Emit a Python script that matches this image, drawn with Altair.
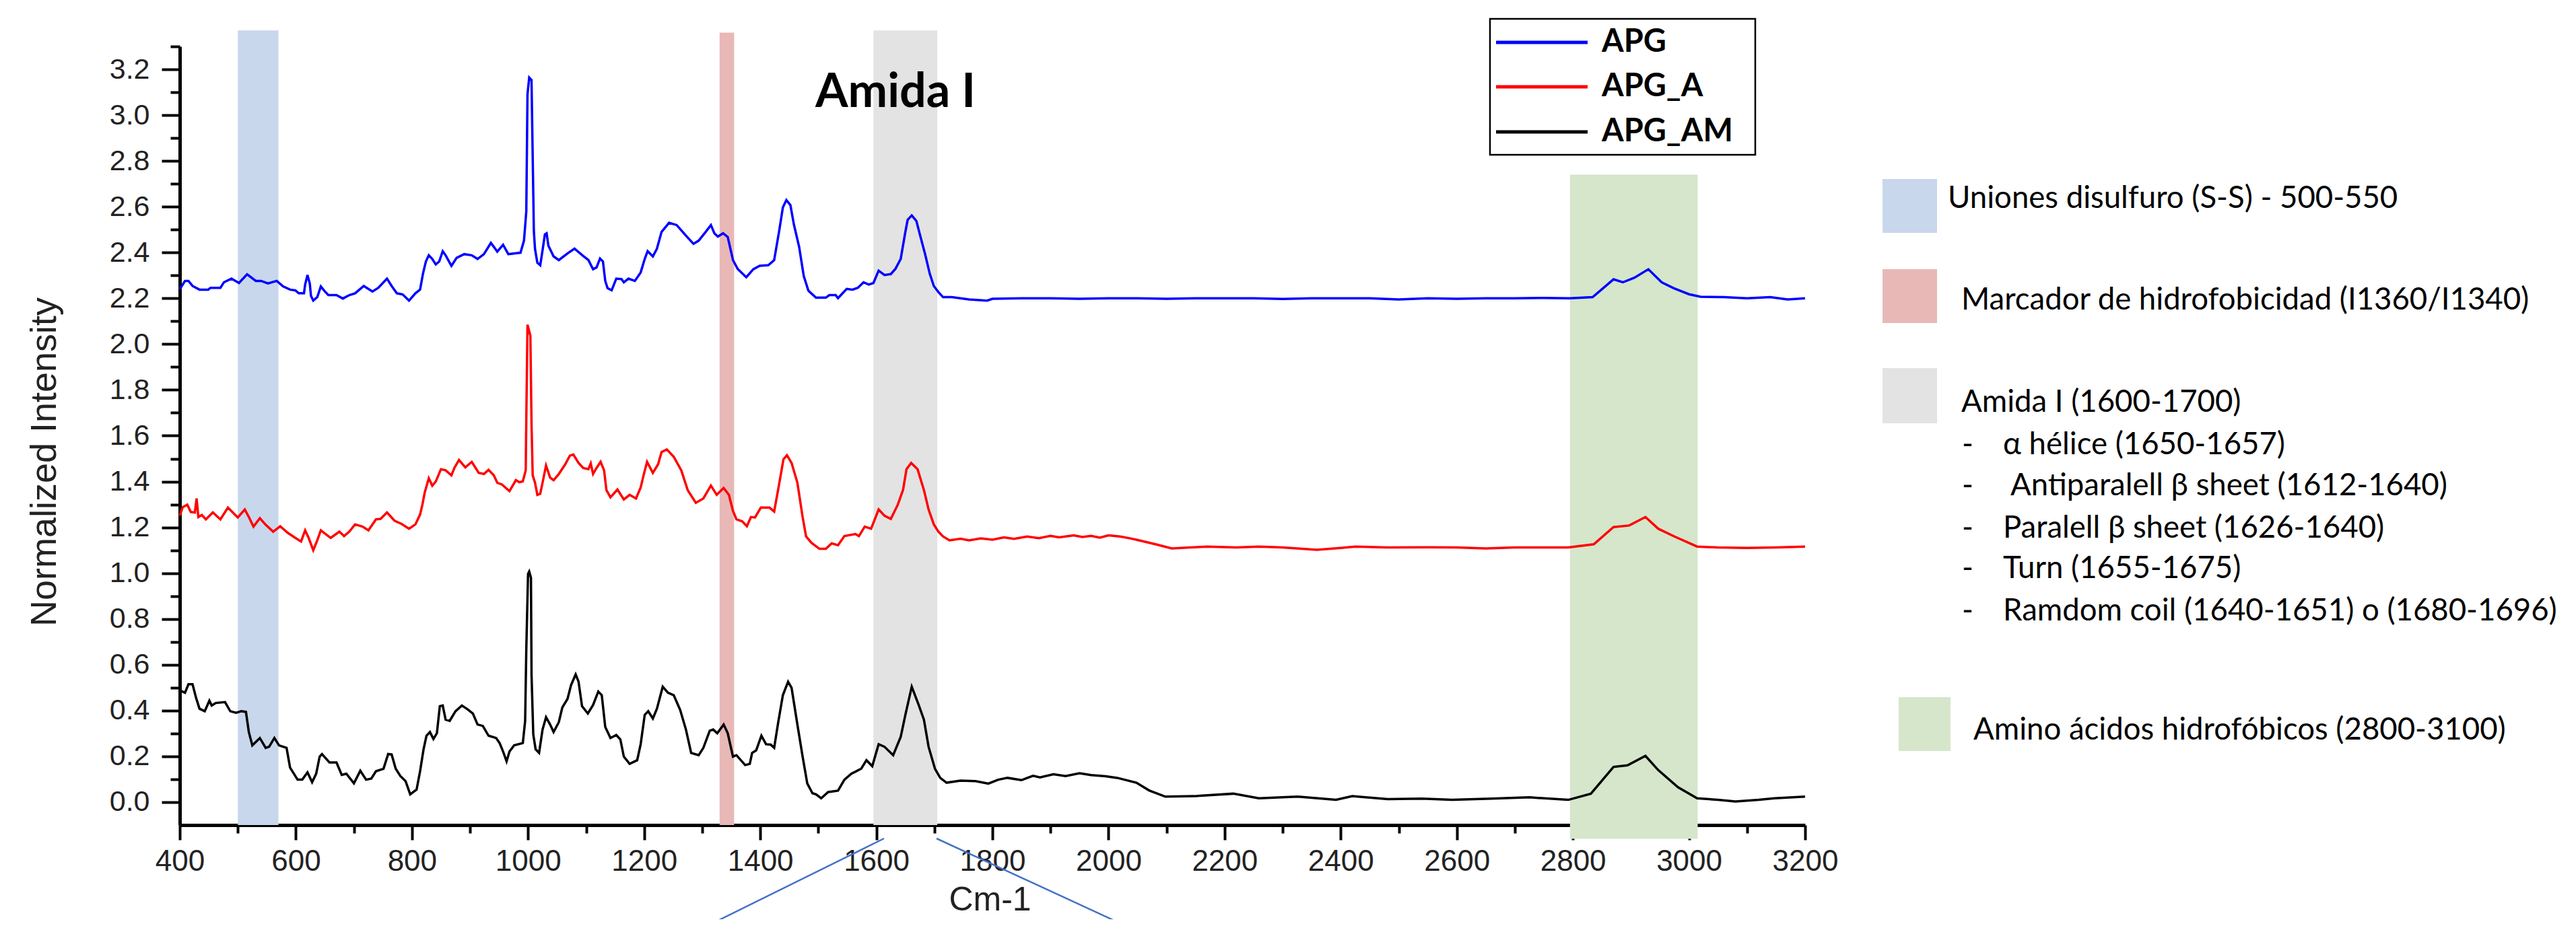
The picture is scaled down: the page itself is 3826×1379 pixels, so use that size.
import altair as alt
import pandas as pd

# ---------------- spectra ----------------
apg_x = [400, 409, 415, 422, 434, 449, 453, 470, 476, 489, 502, 516, 531, 540, 552, 561, 567, 578, 590, 599,
         605, 614, 616, 620, 624, 626, 630, 637, 643, 649, 656, 670, 681, 692, 702, 717, 732, 742, 757, 765,
         774, 784, 795, 806, 814, 819, 824, 829, 835, 841, 847, 853, 858, 868, 877, 890, 903, 913, 924, 936,
         947, 957, 966, 987, 993, 997, 999, 1002, 1006, 1008, 1010, 1012, 1016, 1021, 1025, 1029, 1032, 1035,
         1044, 1053, 1068, 1080, 1095, 1104, 1112, 1118, 1124, 1129, 1133, 1137, 1144, 1152, 1161, 1165, 1173,
         1184, 1194, 1201, 1206, 1215, 1222, 1230, 1243, 1256, 1272, 1285, 1294, 1306, 1315, 1321, 1327, 1336,
         1344, 1353, 1361, 1376, 1388, 1399, 1414, 1424, 1433, 1439, 1445, 1452, 1458, 1467, 1475, 1483, 1496,
         1513, 1519, 1530, 1534, 1549, 1559, 1568, 1578, 1587, 1595, 1604, 1614, 1625, 1633, 1642, 1650, 1654,
         1661, 1669, 1675, 1684, 1692, 1699, 1707, 1715, 1730, 1760, 1791, 1800, 1850, 1900, 1950, 2000, 2050,
         2100, 2150, 2200, 2250, 2300, 2350, 2400, 2450, 2500, 2550, 2600, 2650, 2700, 2750, 2795, 2834, 2870,
         2886, 2906, 2930, 2953, 2974, 3000, 3020, 3060, 3100, 3140, 3170, 3200]
apg_y = [2.240, 2.276, 2.276, 2.254, 2.238, 2.238, 2.246, 2.246, 2.270, 2.286, 2.267, 2.305, 2.276, 2.276,
         2.265, 2.272, 2.276, 2.252, 2.238, 2.235, 2.222, 2.222, 2.260, 2.302, 2.265, 2.211, 2.190, 2.206,
         2.252, 2.233, 2.214, 2.214, 2.199, 2.214, 2.222, 2.254, 2.230, 2.246, 2.286, 2.254, 2.222, 2.217,
         2.190, 2.222, 2.238, 2.308, 2.361, 2.388, 2.372, 2.348, 2.361, 2.406, 2.388, 2.342, 2.377, 2.393,
         2.388, 2.372, 2.393, 2.442, 2.404, 2.434, 2.393, 2.399, 2.452, 2.580, 3.090, 3.164, 3.153, 2.820,
         2.495, 2.415, 2.356, 2.345, 2.410, 2.479, 2.484, 2.430, 2.383, 2.367, 2.396, 2.417, 2.385, 2.367,
         2.327, 2.335, 2.374, 2.361, 2.276, 2.244, 2.235, 2.286, 2.284, 2.270, 2.286, 2.276, 2.313, 2.372,
         2.406, 2.383, 2.417, 2.490, 2.530, 2.520, 2.474, 2.438, 2.452, 2.490, 2.520, 2.484, 2.470, 2.484,
         2.468, 2.367, 2.329, 2.292, 2.327, 2.342, 2.345, 2.367, 2.500, 2.597, 2.629, 2.607, 2.522, 2.425,
         2.297, 2.233, 2.203, 2.203, 2.214, 2.214, 2.201, 2.241, 2.238, 2.246, 2.270, 2.260, 2.267, 2.321,
         2.302, 2.306, 2.329, 2.372, 2.490, 2.543, 2.562, 2.538, 2.479, 2.393, 2.308, 2.254, 2.227, 2.205,
         2.205, 2.195, 2.190, 2.198, 2.200, 2.200, 2.198, 2.200, 2.200, 2.198, 2.200, 2.200, 2.200, 2.197,
         2.200, 2.200, 2.200, 2.195, 2.200, 2.198, 2.200, 2.200, 2.202, 2.200, 2.205, 2.283, 2.270, 2.290,
         2.327, 2.270, 2.244, 2.218, 2.207, 2.205, 2.200, 2.205, 2.195, 2.200]

apg_a_x = [400, 405, 413, 419, 426, 429, 432, 438, 445, 457, 470, 483, 500, 512, 519, 527, 538, 548, 561, 573,
           586, 599, 609, 616, 622, 630, 637, 643, 660, 675, 683, 692, 702, 715, 725, 738, 746, 757, 770, 782,
           795, 806, 814, 818, 822, 829, 835, 841, 850, 858, 868, 873, 881, 892, 903, 915, 924, 932, 941, 947,
           955, 968, 979, 985, 991, 996, 997, 999, 1004, 1006, 1008, 1012, 1016, 1021, 1025, 1031, 1038, 1044,
           1053, 1064, 1072, 1078, 1087, 1095, 1104, 1108, 1112, 1118, 1125, 1131, 1135, 1142, 1154, 1165, 1175,
           1186, 1194, 1199, 1205, 1215, 1224, 1230, 1239, 1251, 1264, 1275, 1289, 1302, 1315, 1325, 1337, 1346,
           1353, 1359, 1369, 1377, 1384, 1391, 1401, 1416, 1424, 1433, 1440, 1446, 1454, 1464, 1473, 1479, 1488,
           1502, 1513, 1523, 1534, 1545, 1564, 1570, 1580, 1591, 1604, 1614, 1625, 1637, 1646, 1652, 1660, 1671,
           1682, 1690, 1699, 1707, 1715,
           1726, 1745, 1760, 1780, 1800, 1820, 1837, 1860, 1880, 1900, 1915, 1940, 1955, 1970, 1985, 2000, 2020,
           2035, 2048, 2081,
           2109, 2140, 2170, 2220, 2259, 2300, 2359, 2400, 2425, 2480, 2550, 2600, 2650, 2700, 2750, 2792, 2836,
           2870, 2897, 2925, 2947, 2975, 3014, 3050, 3100, 3150, 3200]
apg_a_y = [1.251, 1.288, 1.299, 1.267, 1.265, 1.326, 1.245, 1.254, 1.235, 1.265, 1.235, 1.286, 1.243, 1.278,
           1.245, 1.203, 1.240, 1.211, 1.181, 1.205, 1.176, 1.154, 1.138, 1.187, 1.154, 1.100, 1.144, 1.187,
           1.154, 1.181, 1.162, 1.181, 1.213, 1.203, 1.187, 1.235, 1.237, 1.265, 1.229, 1.215, 1.194, 1.213,
           1.256, 1.299, 1.352, 1.414, 1.382, 1.400, 1.454, 1.449, 1.427, 1.459, 1.494, 1.462, 1.486, 1.438,
           1.433, 1.451, 1.427, 1.395, 1.387, 1.358, 1.406, 1.397, 1.401, 1.449, 1.673, 2.085, 2.037, 1.652,
           1.427, 1.395, 1.342, 1.347, 1.395, 1.470, 1.417, 1.406, 1.433, 1.475, 1.513, 1.518, 1.481, 1.459,
           1.454, 1.479, 1.433, 1.459, 1.486, 1.449, 1.363, 1.331, 1.365, 1.322, 1.342, 1.326, 1.374, 1.427,
           1.486, 1.438, 1.475, 1.529, 1.540, 1.508, 1.449, 1.363, 1.307, 1.326, 1.382, 1.342, 1.372, 1.342,
           1.272, 1.235, 1.226, 1.205, 1.245, 1.243, 1.286, 1.286, 1.269, 1.395, 1.497, 1.515, 1.481, 1.395,
           1.245, 1.160, 1.133, 1.106, 1.106, 1.130, 1.122, 1.162, 1.171, 1.162, 1.203, 1.194, 1.278, 1.251,
           1.237, 1.299, 1.363, 1.454, 1.481, 1.454, 1.363, 1.278, 1.213, 1.181, 1.160,
           1.143, 1.150, 1.143, 1.152, 1.146, 1.156, 1.150, 1.160, 1.153, 1.163, 1.156, 1.165, 1.158, 1.163,
           1.155, 1.165, 1.160, 1.153, 1.146, 1.126,
           1.108, 1.112, 1.116, 1.112, 1.116, 1.112, 1.102, 1.110, 1.116, 1.112, 1.113, 1.112, 1.108, 1.112,
           1.112, 1.112, 1.126, 1.201, 1.208, 1.245, 1.194, 1.160, 1.116, 1.112, 1.110, 1.112, 1.116]

apg_am_x = [400, 409, 415, 422, 428, 434, 443, 451, 455, 462, 478, 487, 497, 506, 514, 519, 525, 538, 548, 554,
            563, 571, 584, 590, 603, 611, 620, 628, 635, 641, 645, 658, 670, 679, 687, 700, 711, 721, 730, 738,
            751, 759, 765, 772, 780, 789, 797, 808, 814, 820, 825, 831, 837, 843, 848, 853, 858, 865, 875, 886,
            896, 905, 913, 922, 932, 945, 951, 957, 963, 968, 976, 991, 995, 997, 1000, 1002, 1005, 1006, 1009,
            1013, 1019, 1025, 1031, 1038, 1044, 1053, 1059, 1068, 1074, 1082, 1087, 1093, 1103, 1112, 1121, 1127,
            1133, 1142, 1152, 1159, 1165, 1175, 1188, 1194, 1201, 1207, 1215, 1222, 1232, 1241, 1251, 1262, 1272,
            1281, 1294, 1302, 1313, 1319, 1326, 1337, 1344, 1353, 1359, 1374, 1382, 1386, 1393, 1402, 1410, 1418,
            1424, 1431, 1439, 1448, 1454, 1464, 1473, 1481, 1490, 1496, 1505, 1517, 1534, 1545, 1557, 1574, 1583,
            1593, 1604, 1614, 1629, 1642, 1650, 1661, 1673, 1682, 1690, 1701, 1710, 1721,
            1745, 1771, 1793, 1810, 1826, 1850, 1870, 1882, 1905, 1926, 1950, 1970, 1995, 2015, 2048, 2070, 2098,
            2148, 2215, 2259, 2326,
            2392, 2420, 2481, 2540, 2592, 2660, 2725,
            2792, 2831, 2870, 2894, 2925, 2947, 2981, 3014, 3050, 3080, 3120, 3147, 3200]
apg_am_y = [0.488, 0.478, 0.515, 0.515, 0.456, 0.408, 0.397, 0.443, 0.422, 0.433, 0.437, 0.397, 0.390, 0.397,
            0.394, 0.306, 0.248, 0.280, 0.237, 0.242, 0.280, 0.248, 0.237, 0.151, 0.098, 0.098, 0.130, 0.087,
            0.124, 0.199, 0.210, 0.173, 0.173, 0.119, 0.124, 0.082, 0.137, 0.098, 0.103, 0.135, 0.146, 0.210,
            0.208, 0.146, 0.114, 0.092, 0.034, 0.055, 0.135, 0.231, 0.290, 0.306, 0.276, 0.301, 0.419, 0.422,
            0.360, 0.355, 0.397, 0.422, 0.405, 0.387, 0.339, 0.333, 0.290, 0.280, 0.258, 0.221, 0.178, 0.221,
            0.248, 0.258, 0.355, 0.670, 0.997, 1.007, 0.980, 0.558, 0.296, 0.231, 0.215, 0.317, 0.371, 0.339,
            0.306, 0.349, 0.413, 0.451, 0.510, 0.558, 0.526, 0.419, 0.387, 0.424, 0.483, 0.467, 0.328, 0.280,
            0.293, 0.274, 0.199, 0.167, 0.183, 0.253, 0.381, 0.397, 0.365, 0.408, 0.504, 0.478, 0.467, 0.403,
            0.317, 0.215, 0.205, 0.237, 0.312, 0.317, 0.301, 0.339, 0.301, 0.199, 0.205, 0.162, 0.167, 0.215,
            0.226, 0.290, 0.253, 0.251, 0.237, 0.349, 0.467, 0.526, 0.499, 0.339, 0.199, 0.082, 0.039, 0.034,
            0.017, 0.044, 0.050, 0.098, 0.124, 0.146, 0.183, 0.157, 0.253, 0.242, 0.205, 0.285, 0.381, 0.504,
            0.424, 0.360, 0.242, 0.146, 0.106, 0.085,
            0.094, 0.092, 0.081, 0.098, 0.106, 0.096, 0.115, 0.108, 0.122, 0.114, 0.126, 0.118, 0.113, 0.106,
            0.085, 0.051, 0.024, 0.026, 0.037, 0.017, 0.024,
            0.010, 0.026, 0.013, 0.015, 0.010, 0.015, 0.021,
            0.010, 0.037, 0.154, 0.161, 0.202, 0.140, 0.065, 0.017, 0.010, 0.003, 0.010, 0.017, 0.024]

series_names = ["APG", "APG_A", "APG_AM"]
series_colors = ["#0000FF", "#FF0000", "#000000"]

# ---------------- shaded wavenumber bands ----------------
band_start = [500, 1330, 1595, 2795]
band_end = [570, 1355, 1705, 3015]
band_top = [3.37, 3.36, 3.37, 2.74]
band_bottom = [-0.1, -0.1, -0.1, -0.16]
band_colors = ["#C8D7EC", "#E8B8B7", "#E3E3E3", "#D5E6CB"]

# ---------------- tick values ----------------
x_ticks = list(range(400, 3201, 100))
y_ticks = [round(i * 0.1, 1) for i in range(0, 34)]

# ---------------- texts ----------------
amide_title = "Amida I"
x_title = "Cm-1"
y_title = "Normalized Intensity"
note_labels = ["Uniones disulfuro (S-S)  -  500-550",
               "Marcador de hidrofobicidad (I1360/I1340)",
               "Amida I (1600-1700)",
               "-", "α hélice (1650-1657)",
               "-", "Antiparalell β sheet (1612-1640)",
               "-", "Paralell β sheet (1626-1640)",
               "-", "Turn (1655-1675)",
               "-", "Ramdom coil (1640-1651) o (1680-1696)",
               "Amino ácidos hidrofóbicos (2800-3100)"]

# ---------------- layout (pixels, relative to plot origin) ----------------
W, H = 2414, 1157
note_px = [2626, 2646, 2646, 2647, 2708, 2647, 2719, 2647, 2708, 2647, 2708, 2647, 2708, 2664]
note_py = [226, 377, 529, 592, 592, 653, 653, 716, 716, 776, 776, 839, 839, 1016]
swatch_x0 = [2529, 2529, 2529, 2553]
swatch_x1 = [2610, 2610, 2610, 2630]
swatch_y0 = [197, 331, 478, 967]
swatch_y1 = [277, 411, 560, 1047]
legend_row_y = [-6, 60, 127]

# ---------------- tables ----------------
frames = []
for name, xs, ys in [("APG", apg_x, apg_y), ("APG_A", apg_a_x, apg_a_y), ("APG_AM", apg_am_x, apg_am_y)]:
    n = min(len(xs), len(ys))
    frames.append(pd.DataFrame({"wn": xs[:n], "intensity": ys[:n], "series": name}))
spectra = pd.concat(frames, ignore_index=True)

band_df = pd.DataFrame({"start": band_start, "end": band_end, "top": band_top,
                        "bottom": band_bottom, "color": band_colors})
notes_df = pd.DataFrame({"label": note_labels, "px": note_px, "py": note_py})
swatch_df = pd.DataFrame({"x0": swatch_x0, "x1": swatch_x1, "y0": swatch_y0, "y1": swatch_y1,
                          "color": band_colors})
legend_df = pd.DataFrame({"series": series_names, "ly": legend_row_y})

xscale = alt.Scale(domain=[400, 3200], nice=False, zero=False)
yscale = alt.Scale(domain=[-0.1, 3.3], nice=False, zero=False)
color_scale = alt.Scale(domain=series_names, range=series_colors)

x_axis = alt.Axis(
    values=x_ticks, format="d",
    labelExpr="datum.value % 200 === 0 ? datum.label : ''",
    tickSize={"condition": {"test": "datum.value % 200 === 0", "value": 22}, "value": 12},
    tickWidth=4, tickColor="black", domainWidth=5, domainColor="black",
    labelFont="Liberation Sans", labelFontSize=44, labelColor="#222222", labelPadding=10,
    labelFlush=False, labelOverlap=False, labelBound=False, grid=False,
    title=x_title, titleFont="Liberation Sans", titleFontSize=50, titleFontWeight="normal",
    titleColor="#222222", titleX=1203, titleY=86, titleBaseline="top", titleAlign="center",
)
y_axis = alt.Axis(
    values=y_ticks,
    labelExpr="round(datum.value * 10) % 2 === 0 ? format(datum.value, '.1f') : ''",
    tickSize={"condition": {"test": "round(datum.value * 10) % 2 === 0", "value": 27}, "value": 14},
    tickWidth=4, tickColor="black", domainWidth=5, domainColor="black",
    labelFont="Liberation Sans", labelFontSize=43, labelColor="#222222", labelPadding=18,
    labelFlush=False, labelOverlap=False, labelBound=False, grid=False,
    title=y_title, titleFont="Liberation Sans", titleFontSize=54, titleFontWeight="normal",
    titleColor="#222222", titleX=-201, titleY=617, titleAngle=270, titleAlign="center",
    titleBaseline="middle",
)

bands = alt.Chart(band_df).mark_rect().encode(
    x=alt.X("start:Q", scale=xscale, axis=x_axis),
    x2="end:Q",
    y=alt.Y("top:Q", scale=yscale, axis=y_axis),
    y2="bottom:Q",
    color=alt.Color("color:N", scale=None),
)

lines = alt.Chart(spectra).mark_line(strokeWidth=3.5).encode(
    x=alt.X("wn:Q", scale=xscale, axis=x_axis),
    y=alt.Y("intensity:Q", scale=yscale, axis=y_axis),
    color=alt.Color("series:N", scale=color_scale, legend=None),
)

amida = alt.Chart(pd.DataFrame({"t": [amide_title]})).mark_text(
    font="Lato", fontSize=70, fontWeight="bold", align="left", baseline="alphabetic", color="black"
).encode(x=alt.value(944), y=alt.value(90), text="t:N")

legend_box = alt.Chart(pd.DataFrame({"a": [0]})).mark_rect(
    fillOpacity=0, stroke="black", strokeWidth=2.5
).encode(x=alt.value(1946), x2=alt.value(2340), y=alt.value(-41), y2=alt.value(161))

legend_lines = alt.Chart(legend_df).mark_rule(strokeWidth=5).encode(
    x=alt.value(1955), x2=alt.value(2091),
    y=alt.Y("ly:Q", scale=None, axis=None),
    color=alt.Color("series:N", scale=color_scale, legend=None),
)

legend_labels = alt.Chart(legend_df).mark_text(
    font="Lato", fontSize=47, fontWeight="bold", align="left", baseline="middle", color="black"
).encode(x=alt.value(2112), y=alt.Y("ly:Q", scale=None, axis=None), text="series:N")

swatches = alt.Chart(swatch_df).mark_rect().encode(
    x=alt.X("x0:Q", scale=None, axis=None), x2="x1:Q",
    y=alt.Y("y0:Q", scale=None, axis=None), y2="y1:Q",
    color=alt.Color("color:N", scale=None),
)

notes = alt.Chart(notes_df).mark_text(
    font="Lato", fontSize=45.5, align="left", baseline="middle", color="black"
).encode(
    x=alt.X("px:Q", scale=None, axis=None),
    y=alt.Y("py:Q", scale=None, axis=None),
    text="label:N",
)

callout_left = alt.Chart(pd.DataFrame({"a": [0]})).mark_rule(color="#4472C4", strokeWidth=2.5).encode(
    x=alt.value(1046), x2=alt.value(777), y=alt.value(1177), y2=alt.value(1310))
callout_right = alt.Chart(pd.DataFrame({"a": [0]})).mark_rule(color="#4472C4", strokeWidth=2.5).encode(
    x=alt.value(1124), x2=alt.value(1412), y=alt.value(1177), y2=alt.value(1310))

chart = alt.layer(
    bands, lines, amida, legend_box, legend_lines, legend_labels, swatches, notes,
    callout_left, callout_right
).properties(
    width=W, height=H,
    autosize=alt.AutoSizeParams(type="none"),
    padding={"left": 259, "top": 61, "right": 1130, "bottom": 140},
    background="white",
).configure_view(stroke=None)

chart.save("out.html", embed_options={"renderer": "svg", "actions": False})
